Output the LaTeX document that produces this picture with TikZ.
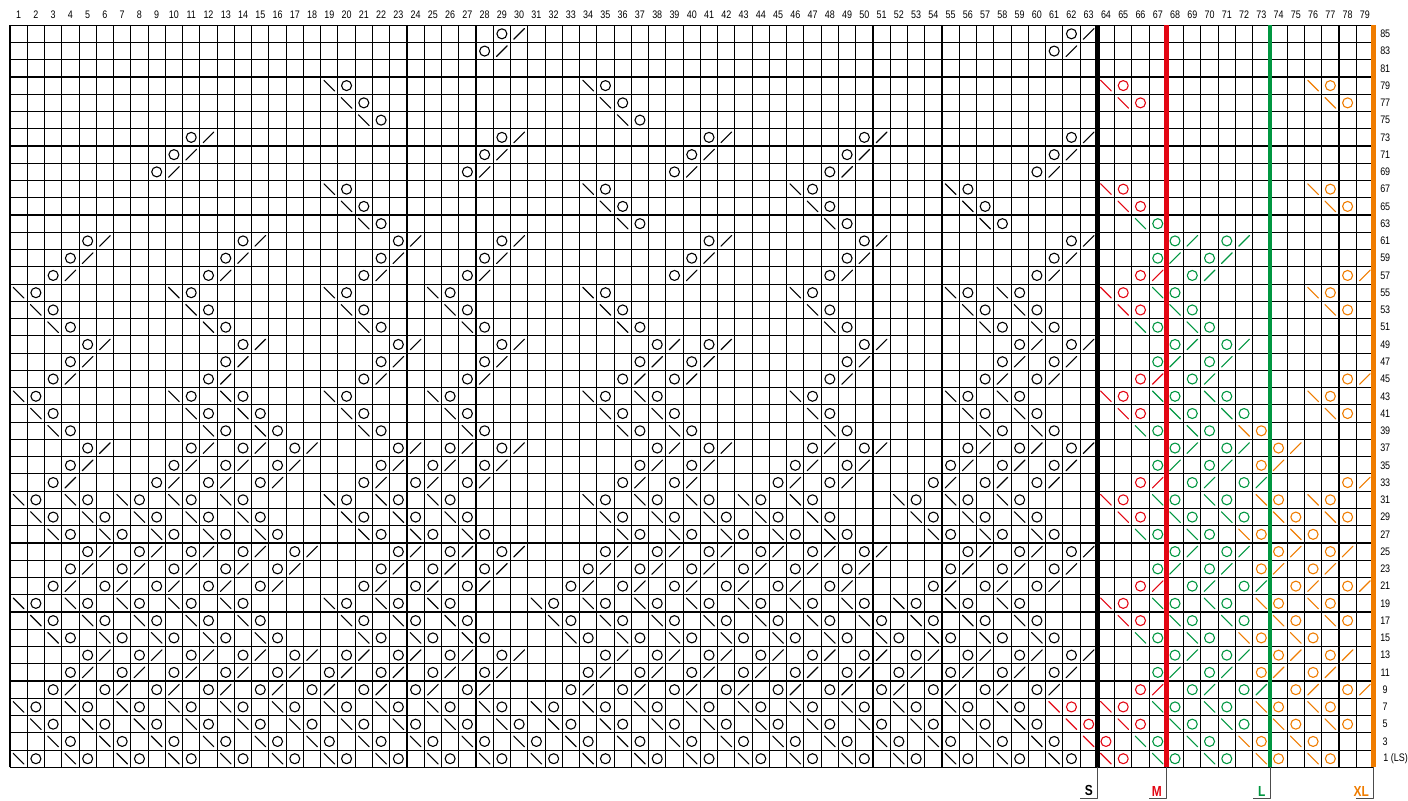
\documentclass[tikz,border=0pt]{standalone}
\usepackage{fontspec}
\setmainfont{Liberation Sans}[FakeStretch=0.82]
\colorlet{sizeS}{black}
\definecolor{sizeM}{RGB}{227,6,19}
\definecolor{sizeL}{RGB}{0,150,64}
\definecolor{sizeXL}{RGB}{239,124,0}
\begin{document}
\begin{tikzpicture}[x=0.5cm, y=0.5cm, line join=round, line cap=round,
		sym/.style={line width=0.9pt},
		bar/.style={line width=3.6pt, line cap=butt},
		lbl/.style={inner sep=0pt, font=\fontsize{9}{10}\selectfont},
		sizelbl/.style={inner sep=0pt, anchor=south east, font=\fontsize{12}{14}\selectfont\bfseries}]
	\useasboundingbox (-0.58,-1.95) rectangle (81.0,44.46);
	\foreach \x in {0,...,79} {
		\draw[line width=0.9pt, line cap=butt] (\x,0) -- (\x,43);	}
	\foreach \y in {0,...,43} {
		\draw[line width=0.9pt, line cap=butt] (0,\y) -- (79,\y);	}
	% size lines
	\foreach \s/\x in {S/63, M/67, L/73, XL/79} {
		\coordinate (top\s) at (\x,43);
		\coordinate (bot\s) at (\x,0);
		\draw[bar, color=size\s] (top\s) -- (bot\s);
		\draw[black!70, line width=0.6pt, line cap=butt] (bot\s) -- ++(0,-1.82) -- ++(-1,0);
		\node[sizelbl, text=size\s] (lab\s) at (\x-0.25,-1.68) {\s};
	}
	% decreases: \ then yarn over
	\foreach \k/\r/\cs in {
		sizeS/1/{1,4,7,10,13,16,19,22,25,28,31,34,37,40,43,46,49,52,55,58,61}, sizeM/1/{64}, sizeL/1/{67,70}, sizeXL/1/{73,76},
		sizeS/3/{3,6,9,12,15,18,21,24,27,30,33,36,39,42,45,48,51,54,57,60}, sizeM/3/{63}, sizeL/3/{66,69}, sizeXL/3/{72,75},
		sizeS/5/{2,5,8,11,14,17,20,23,26,29,32,35,38,41,44,47,50,53,56,59}, sizeM/5/{62,65}, sizeL/5/{68,71}, sizeXL/5/{74,77},
		sizeS/7/{1,4,7,10,13,16,19,22,25,28,31,34,37,40,43,46,49,52,55,58}, sizeM/7/{61,64}, sizeL/7/{67,70}, sizeXL/7/{73,76},
		sizeS/15/{3,6,9,12,15,21,24,27,33,36,39,42,45,48,51,54,57,60}, sizeL/15/{66,69}, sizeXL/15/{72,75},
		sizeS/17/{2,5,8,11,14,20,23,26,32,35,38,41,44,47,50,53,56,59}, sizeM/17/{65}, sizeL/17/{68,71}, sizeXL/17/{74,77},
		sizeS/19/{1,4,7,10,13,19,22,25,31,34,37,40,43,46,49,52,55,58}, sizeM/19/{64}, sizeL/19/{67,70}, sizeXL/19/{73,76},
		sizeS/27/{3,6,9,12,15,21,24,27,36,39,42,45,48,54,57,60}, sizeL/27/{66,69}, sizeXL/27/{72,75},
		sizeS/29/{2,5,8,11,14,20,23,26,35,38,41,44,47,53,56,59}, sizeM/29/{65}, sizeL/29/{68,71}, sizeXL/29/{74,77},
		sizeS/31/{1,4,7,10,13,19,22,25,34,37,40,43,46,52,55,58}, sizeM/31/{64}, sizeL/31/{67,70}, sizeXL/31/{73,76},
		sizeS/39/{3,12,15,21,27,36,39,48,57,60}, sizeL/39/{66,69}, sizeXL/39/{72},
		sizeS/41/{2,11,14,20,26,35,38,47,56,59}, sizeM/41/{65}, sizeL/41/{68,71}, sizeXL/41/{77},
		sizeS/43/{1,10,13,19,25,34,37,46,55,58}, sizeM/43/{64}, sizeL/43/{67,70}, sizeXL/43/{76},
		sizeS/51/{3,12,21,27,36,48,57,60}, sizeL/51/{66,69},
		sizeS/53/{2,11,20,26,35,47,56,59}, sizeM/53/{65}, sizeL/53/{68}, sizeXL/53/{77},
		sizeS/55/{1,10,19,25,34,46,55,58}, sizeM/55/{64}, sizeL/55/{67}, sizeXL/55/{76},
		sizeS/63/{21,36,48,57}, sizeL/63/{66},
		sizeS/65/{20,35,47,56}, sizeM/65/{65}, sizeXL/65/{77},
		sizeS/67/{19,34,46,55}, sizeM/67/{64}, sizeXL/67/{76},
		sizeS/75/{21,36},
		sizeS/77/{20,35}, sizeM/77/{65}, sizeXL/77/{77},
		sizeS/79/{19,34}, sizeM/79/{64}, sizeXL/79/{76}} {
		\foreach \c in \cs {
			\draw[sym, color=\k] (\c-0.81,\r/2+0.31) -- (\c-0.19,\r/2-0.31);
			\draw[sym, color=\k] (\c+0.5,\r/2) circle (0.29);
		}
	}
	% yarn over then /
	\foreach \k/\r/\cs in {
		sizeS/9/{3,6,9,12,15,18,21,24,27,33,36,39,42,45,48,51,54,57,60}, sizeM/9/{66}, sizeL/9/{69,72}, sizeXL/9/{75,78},
		sizeS/11/{4,7,10,13,16,19,22,25,28,34,37,40,43,46,49,52,55,58,61}, sizeL/11/{67,70}, sizeXL/11/{73,76},
		sizeS/13/{5,8,11,14,17,20,23,26,29,35,38,41,44,47,50,53,56,59,62}, sizeL/13/{68,71}, sizeXL/13/{74,77},
		sizeS/21/{3,6,9,12,15,21,24,27,33,36,39,42,45,48,54,57,60}, sizeM/21/{66}, sizeL/21/{69,72}, sizeXL/21/{75,78},
		sizeS/23/{4,7,10,13,16,22,25,28,34,37,40,43,46,49,55,58,61}, sizeL/23/{67,70}, sizeXL/23/{73,76},
		sizeS/25/{5,8,11,14,17,23,26,29,35,38,41,44,47,50,56,59,62}, sizeL/25/{68,71}, sizeXL/25/{74,77},
		sizeS/33/{3,9,12,15,21,24,27,36,39,45,48,54,57,60}, sizeM/33/{66}, sizeL/33/{69,72}, sizeXL/33/{78},
		sizeS/35/{4,10,13,16,22,25,28,37,40,46,49,55,58,61}, sizeL/35/{67,70}, sizeXL/35/{73},
		sizeS/37/{5,11,14,17,23,26,29,38,41,47,50,56,59,62}, sizeL/37/{68,71}, sizeXL/37/{74},
		sizeS/45/{3,12,21,27,36,39,48,57,60}, sizeM/45/{66}, sizeL/45/{69}, sizeXL/45/{78},
		sizeS/47/{4,13,22,28,37,40,49,58,61}, sizeL/47/{67,70},
		sizeS/49/{5,14,23,29,38,41,50,59,62}, sizeL/49/{68,71},
		sizeS/57/{3,12,21,27,39,48,60}, sizeM/57/{66}, sizeL/57/{69}, sizeXL/57/{78},
		sizeS/59/{4,13,22,28,40,49,61}, sizeL/59/{67,70},
		sizeS/61/{5,14,23,29,41,50,62}, sizeL/61/{68,71},
		sizeS/69/{9,27,39,48,60},
		sizeS/71/{10,28,40,49,61},
		sizeS/73/{11,29,41,50,62},
		sizeS/83/{28,61},
		sizeS/85/{29,62}} {
		\foreach \c in \cs {
			\draw[sym, color=\k] (\c-0.5,\r/2) circle (0.29);
			\draw[sym, color=\k] (\c+0.19,\r/2-0.31) -- (\c+0.81,\r/2+0.31);
		}
	}
	% numbers
	\foreach \c in {1,...,79} {
		\node[lbl] (c\c) at (\c-0.5,43.58) {\c};	}
	\foreach \r in {3,5,...,85} {
		\node[lbl] (r\r) at (79.68,\r/2) {\r};	}
	\node[lbl, anchor=west] (r1) at (79.56,0.5) {1 (LS)};
\end{tikzpicture}
\end{document}
